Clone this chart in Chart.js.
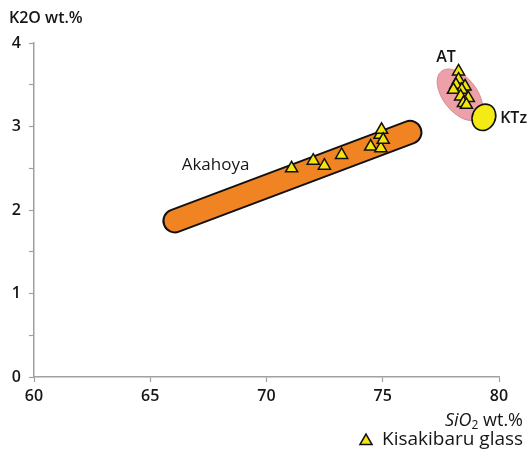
<!DOCTYPE html>
<html>
<head>
<meta charset="utf-8">
<script src="https://cdn.jsdelivr.net/npm/chart.js@4.4.1/dist/chart.umd.min.js"></script>
<style>
  html, body { margin: 0; padding: 0; background: #ffffff; }
  #wrap { width: 527px; height: 457px; position: relative; }
</style>
</head>
<body>
<div id="wrap"><canvas id="c" width="527" height="457"></canvas></div>
<script>
// Kisakibaru glass shards: SiO2 vs K2O (wt.%)
const akahoyaSiO2 = [71.08, 72.01, 72.49, 73.23, 74.48, 74.92, 74.88, 74.95, 75.02];
const akahoyaK2O  = [2.50, 2.59, 2.53, 2.66, 2.76, 2.74, 2.90, 2.96, 2.84];
const atSiO2 = [78.26, 78.26, 78.15, 78.54, 78.40, 78.04, 78.35, 78.68, 78.47, 78.60];
const atK2O  = [3.66, 3.56, 3.50, 3.48, 3.44, 3.44, 3.36, 3.34, 3.28, 3.26];

// Reference fields (centre line of the Akahoya band, centres of AT and KTz)
const akahoyaFieldSiO2 = [66.06, 76.17];
const akahoyaFieldK2O  = [1.87, 2.93];
const atFieldCentre  = [78.32, 3.38];
const ktzFieldCentre = [79.35, 3.11];

// Field names and where they sit
const fieldNames  = ['Akahoya', 'AT', 'KTz'];
const fieldLabelX = [66.35, 77.3, 80.05];
const fieldLabelY = [2.54, 3.83, 3.10];

const xTicks = [60, 65, 70, 75, 80];
const yTicks = [0, 1, 2, 3, 4];

const glassPoints = akahoyaSiO2.map((x, i) => ({ x, y: akahoyaK2O[i] }))
  .concat(atSiO2.map((x, i) => ({ x, y: atK2O[i] })));
const bandPoints = akahoyaFieldSiO2.map((x, i) => ({ x, y: akahoyaFieldK2O[i] }));

const FONT = '"Open Sans", Lato, sans-serif';
const AXIS = '#a0a0a0';
const TEXT = '#161616';
const GLASS_FILL = '#f3e60c';

// Ellipse fields for AT and KTz, placed through the chart scales
const fieldShapes = {
  id: 'fieldShapes',
  beforeDatasetsDraw(chart) {
    const { ctx, scales: { x, y } } = chart;
    ctx.save();
    // AT field (pink)
    ctx.beginPath();
    ctx.ellipse(x.getPixelForValue(atFieldCentre[0]), y.getPixelForValue(atFieldCentre[1]),
      30, 17, 52 * Math.PI / 180, 0, Math.PI * 2);
    ctx.fillStyle = '#eea0a8';
    ctx.fill();
    ctx.lineWidth = 0.8;
    ctx.strokeStyle = '#c98088';
    ctx.stroke();
    // KTz field (yellow)
    ctx.beginPath();
    ctx.ellipse(x.getPixelForValue(ktzFieldCentre[0]), y.getPixelForValue(ktzFieldCentre[1]),
      11.5, 13.5, 25 * Math.PI / 180, 0, Math.PI * 2);
    ctx.fillStyle = '#f4ea14';
    ctx.fill();
    ctx.lineWidth = 1.6;
    ctx.strokeStyle = '#111111';
    ctx.stroke();
    ctx.restore();
  }
};

// Text: field names, axis titles and the legend
const annotations = {
  id: 'annotations',
  afterDraw(chart) {
    const { ctx, scales: { x, y } } = chart;
    ctx.save();
    ctx.fillStyle = TEXT;
    ctx.textBaseline = 'middle';
    ctx.textAlign = 'left';
    fieldNames.forEach((name, i) => {
      ctx.font = (i === 0 ? '500 17px ' : '600 16px ') + FONT;
      ctx.fillText(name, x.getPixelForValue(fieldLabelX[i]), y.getPixelForValue(fieldLabelY[i]));
    });

    // y-axis title
    ctx.font = '600 16px ' + FONT;
    ctx.fillText('K2O wt.%', 9, 18);

    // x-axis title: SiO2 wt.% (right aligned)
    const right = 523, ty = 421;
    ctx.font = '500 18px ' + FONT;
    const tail = ' wt.%';
    const wTail = ctx.measureText(tail).width;
    ctx.font = '500 12px ' + FONT;
    const sub = '2';
    const wSub = ctx.measureText(sub).width;
    ctx.font = 'italic 500 18px ' + FONT;
    const head = 'SiO';
    const wHead = ctx.measureText(head).width;
    let tx = right - wTail - wSub - wHead;
    ctx.fillText(head, tx, ty);
    tx += wHead;
    ctx.font = '500 12px ' + FONT;
    ctx.fillText(sub, tx, ty + 5);
    tx += wSub;
    ctx.font = '500 18px ' + FONT;
    ctx.fillText(tail, tx, ty);

    // legend
    ctx.fillStyle = GLASS_FILL;
    ctx.strokeStyle = '#111111';
    ctx.lineWidth = 1.5;
    Chart.helpers.drawPoint(ctx, {
      pointStyle: 'triangle', radius: 7, rotation: 0, borderWidth: 1.5
    }, 366, 441);
    ctx.fillStyle = TEXT;
    ctx.font = '500 19px ' + FONT;
    ctx.textAlign = 'left';
    ctx.fillText('Kisakibaru glass', 382, 440);
    ctx.restore();
  }
};

const ctxEl = document.getElementById('c');
new Chart(ctxEl, {
  type: 'scatter',
  data: {
    datasets: [
      {
        label: 'Kisakibaru glass',
        data: glassPoints,
        pointStyle: 'triangle',
        pointRadius: 7,
        pointBackgroundColor: GLASS_FILL,
        pointBorderColor: '#111111',
        pointBorderWidth: 1.5,
        order: 0
      },
      {
        label: 'Akahoya',
        data: bandPoints,
        showLine: true,
        borderColor: '#f08423',
        borderWidth: 21,
        borderCapStyle: 'round',
        pointRadius: 0,
        order: 1
      },
      {
        label: 'Akahoya outline',
        data: bandPoints,
        showLine: true,
        borderColor: '#111111',
        borderWidth: 25,
        borderCapStyle: 'round',
        pointRadius: 0,
        order: 2
      }
    ]
  },
  options: {
    responsive: false,
    animation: false,
    events: [],
    layout: { padding: { top: 43, right: 28, left: 0, bottom: 0 } },
    plugins: {
      legend: { display: false },
      tooltip: { enabled: false }
    },
    scales: {
      x: {
        type: 'linear',
        min: 60, max: 80,
        afterBuildTicks(scale) { scale.ticks = xTicks.map(v => ({ value: v })); },
        afterFit(scale) { scale.height = 80; },
        border: { color: AXIS, width: 1.5 },
        grid: { drawOnChartArea: false, tickLength: 5, color: AXIS, tickWidth: 1.2 },
        ticks: {
          color: TEXT,
          padding: 5,
          font: { family: FONT, size: 16, weight: '600' }
        }
      },
      y: {
        type: 'linear',
        min: 0, max: 4,
        ticks: {
          stepSize: 0.5,
          color: TEXT,
          padding: 8,
          font: { family: FONT, size: 16, weight: '600' },
          callback: v => (yTicks.includes(v) ? String(v) : '')
        },
        afterFit(scale) { scale.width = 34; },
        border: { color: AXIS, width: 1.5 },
        grid: { drawOnChartArea: false, tickLength: 5, color: AXIS, tickWidth: 1.2 }
      }
    }
  },
  plugins: [fieldShapes, annotations]
});
</script>
</body>
</html>
